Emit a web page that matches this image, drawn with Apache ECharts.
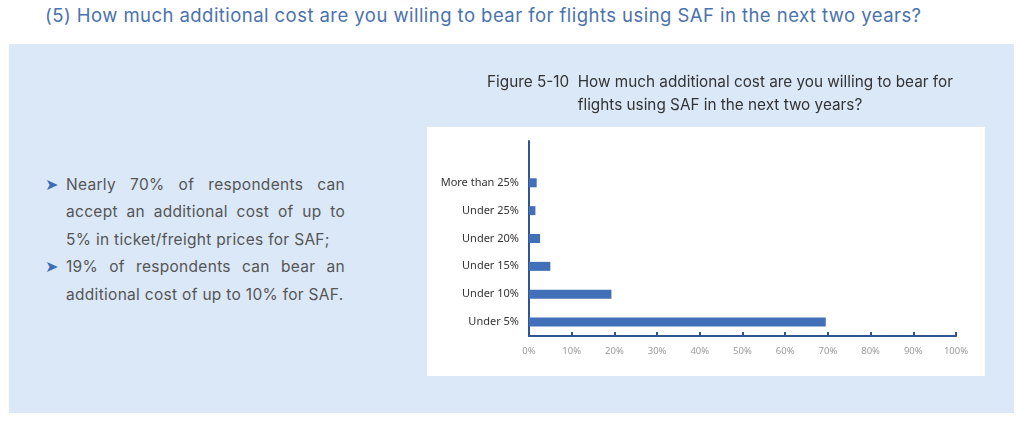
<!DOCTYPE html>
<html>
<head>
<meta charset="utf-8">
<script src="https://cdn.jsdelivr.net/npm/echarts@6/dist/echarts.min.js"></script>
<style>
  html, body { margin: 0; padding: 0; background: #fff; }
  body { width: 1024px; height: 423px; position: relative; overflow: hidden; font-family: Inter, 'Noto Sans', sans-serif; }
  .heading { position: absolute; left: 45px; top: 4px; font-size: 18.5px; color: #4a72ad; white-space: nowrap; letter-spacing: 0.45px; }
  .panel { position: absolute; left: 9px; top: 44px; width: 1005px; height: 369px; background: #dbe8f8; }
  .plot { position: absolute; left: 427px; top: 127px; width: 558px; height: 249px; background: #fff; }
  .notes { position: absolute; left: 45px; top: 171px; width: 300px; font-size: 15.5px; line-height: 27.4px; color: #555; letter-spacing: 0.3px; }
  .notes p { margin: 0; padding-left: 21px; position: relative; }
  .notes p::before { content: '\27A4'; position: absolute; left: 0; top: 0; color: #3e6db5; font-size: 16px; font-family: 'DejaVu Sans'; }
  .notes span { display: block; white-space: nowrap; }
  .notes span.j { text-align: justify; text-align-last: justify; }
  #chart { position: absolute; left: 0; top: 0; width: 1024px; height: 423px; }
</style>
</head>
<body>
<div class="heading">(5) How much additional cost are you willing to bear for flights using SAF in the next two years?</div>
<div class="panel"></div>
<div class="plot"></div>
<div class="notes">
  <p><span class="j">Nearly 70% of respondents can</span><span class="j">accept an additional cost of up to</span><span>5% in ticket/freight prices for SAF;</span></p>
  <p><span class="j">19% of respondents can bear an</span><span>additional cost of up to 10% for SAF.</span></p>
</div>
<div id="chart"></div>
<script>
// categories bottom to top; the empty one at the top leaves the axis headroom seen in the figure
const categories = ['Under 5%', 'Under 10%', 'Under 15%', 'Under 20%', 'Under 25%', 'More than 25%', ''];
const shares = [69.5, 19.3, 5.0, 2.6, 1.5, 1.8, null];
const xTicks = { min: 0, max: 100, step: 10 };

const axisBlue = '#2f5597';

const chart = echarts.init(document.getElementById('chart'));
chart.setOption({
  backgroundColor: 'transparent',
  animation: false,
  title: {
    text: 'Figure 5-10  How much additional cost are you willing to bear for\nflights using SAF in the next two years?',
    left: 715,
    top: 66,
    textAlign: 'center',
    textStyle: { fontSize: 15.3, fontWeight: 'normal', color: '#333', lineHeight: 23, fontFamily: 'Inter' }
  },
  grid: { left: 529, top: 141, width: 427, height: 195, containLabel: false },
  xAxis: {
    type: 'value',
    min: xTicks.min,
    max: xTicks.max,
    interval: xTicks.step,
    axisLine: { show: true, lineStyle: { color: axisBlue, width: 2 } },
    axisTick: { show: true, inside: true, length: 4, lineStyle: { color: axisBlue, width: 2 } },
    axisLabel: { formatter: '{value}%', color: '#9a9a9a', fontSize: 9.5, margin: 10, fontFamily: 'Noto Sans' },
    splitLine: { show: false }
  },
  yAxis: {
    type: 'category',
    data: categories,
    axisLine: { show: true, lineStyle: { color: axisBlue, width: 2 } },
    axisTick: { show: false },
    axisLabel: { color: '#333', fontSize: 11, margin: 10, fontFamily: 'Noto Sans' }
  },
  series: [{
    type: 'bar',
    data: shares,
    barWidth: 9,
    itemStyle: { color: '#4170b9' }
  }]
});
</script>
</body>
</html>
